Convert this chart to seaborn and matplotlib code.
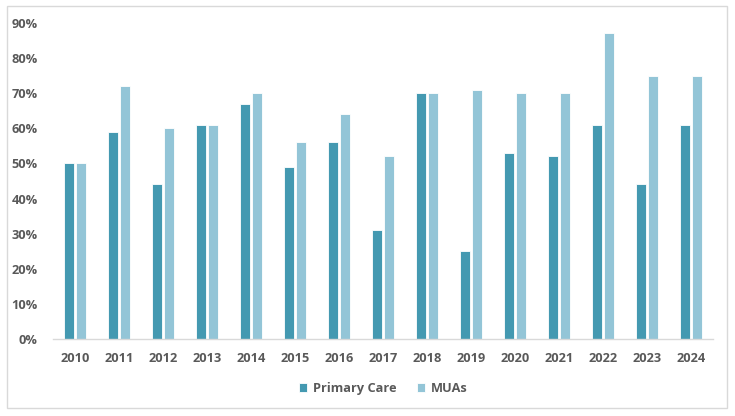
import pandas as pd
import matplotlib
matplotlib.use('Agg')
import matplotlib.pyplot as plt
import seaborn as sns
from matplotlib.patches import Rectangle
from matplotlib.ticker import PercentFormatter

# data
years = ['2010', '2011', '2012', '2013', '2014', '2015', '2016', '2017',
         '2018', '2019', '2020', '2021', '2022', '2023', '2024']
primary_care = [50, 59, 44, 61, 67, 49, 56, 31, 70, 25, 53, 52, 61, 44, 61]
muas = [50, 72, 60, 61, 70, 56, 64, 52, 70, 71, 70, 70, 87, 75, 75]
series_names = ['Primary Care', 'MUAs']
colors = ['#4499B1', '#93C5D7']

df = pd.DataFrame({'year': years * 2,
                   'value': primary_care + muas,
                   'series': [series_names[0]] * len(years) + [series_names[1]] * len(years)})

sns.set_style('white')
plt.rcParams['font.family'] = ['Open Sans', 'DejaVu Sans']

fig = plt.figure(figsize=(7.35, 4.16), dpi=100)
ax = fig.add_axes([0.072, 0.185, 0.898, 0.76])

sns.barplot(data=df, x='year', y='value', hue='series', palette=colors,
            saturation=1, width=0.55, gap=0.2, edgecolor='white',
            linewidth=0.6, ax=ax)

ax.set_ylim(0, 90)
ax.set_xlim(-0.5, len(years) - 0.5)
ax.set_yticks(range(0, 91, 10))
ax.yaxis.set_major_formatter(PercentFormatter(decimals=0))
ax.set_xlabel('')
ax.set_ylabel('')

for side in ['top', 'right', 'left']:
    ax.spines[side].set_visible(False)
ax.spines['bottom'].set_color('#D9D9D9')
ax.spines['bottom'].set_linewidth(1)

ax.tick_params(axis='both', length=0, labelsize=9.2, labelcolor='#595959')
ax.tick_params(axis='y', pad=11)
ax.tick_params(axis='x', pad=9)
for lbl in ax.get_xticklabels() + ax.get_yticklabels():
    lbl.set_fontweight('bold')

leg = ax.legend(loc='upper center', bbox_to_anchor=(0.5, -0.1), ncol=2,
                frameon=False, handlelength=0.7, handleheight=0.7,
                handletextpad=0.4, columnspacing=1.6,
                prop={'weight': 'bold', 'size': 9.2})
for t in leg.get_texts():
    t.set_color('#595959')

# light chart border
fig.patches.append(Rectangle((7 / 735, 1 - 408 / 416), 720 / 735, 402 / 416,
                             transform=fig.transFigure, fill=False,
                             edgecolor='#D9D9D9', linewidth=1))

fig.savefig('out.png', dpi=100)
